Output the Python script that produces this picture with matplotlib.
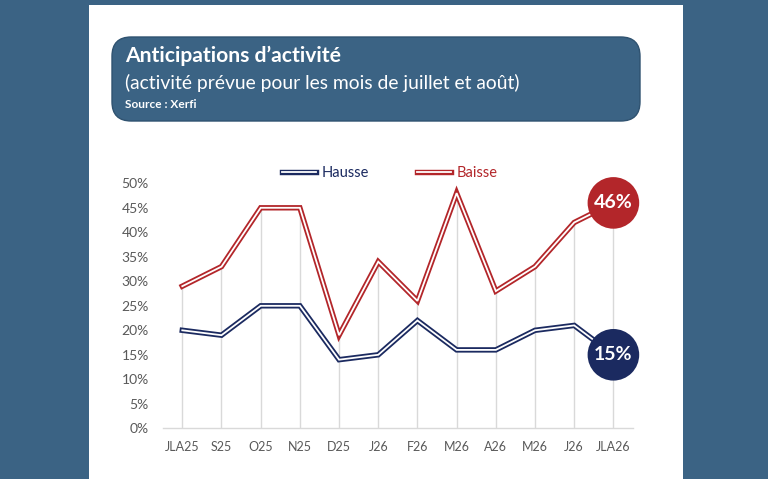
import matplotlib
matplotlib.use("Agg")
import matplotlib.pyplot as plt
import matplotlib.patheffects as pe
from matplotlib.patches import FancyBboxPatch, Rectangle
import numpy as np

plt.rcParams['font.family'] = ['Lato', 'DejaVu Sans']

categories = ["JLA25", "S25", "O25", "N25", "D25", "J26", "F26", "M26", "A26", "M26", "J26", "JLA26"]
hausse = [20, 19, 25, 25, 14, 15, 22, 16, 16, 20, 21, 15]
baisse = [29, 33, 45, 45, 19, 34, 26, 48, 28, 33, 42, 46]
yticks = [0, 5, 10, 15, 20, 25, 30, 35, 40, 45, 50]
ytick_labels = [f"{v}%" for v in yticks]

title = "Anticipations d’activité"
subtitle = "(activité prévue pour les mois de juillet et août)"
source = "Source : Xerfi"

BG = "#3b6384"
NAVY = "#1b2a60"
RED = "#b3262a"

fig = plt.figure(figsize=(7.68, 4.79), dpi=100)
fig.patch.set_facecolor(BG)

W, H = 768, 479
def fx(px):
    return px / W
def fy(py):
    return 1 - py / H

# white panel
fig.patches.append(Rectangle((fx(89), 0), fx(683) - fx(89), fy(5), transform=fig.transFigure,
                             facecolor="white", edgecolor="none", zorder=-10))
# title box
fig.patches.append(FancyBboxPatch((fx(112), fy(121)), fx(640) - fx(112), fy(37) - fy(121),
                                  boxstyle="round,pad=0,rounding_size=0.025",
                                  transform=fig.transFigure, facecolor=BG,
                                  edgecolor="#2f5270", linewidth=1, zorder=-5,
                                  mutation_aspect=W / H))
fig.text(fx(125), fy(56), title, color="white", fontsize=15.2, fontweight="bold", va="center", ha="left")
fig.text(fx(125), fy(83), subtitle, color="white", fontsize=13.9, va="center", ha="left")
fig.text(fx(125), fy(104), source, color="white", fontsize=8.6, fontweight="bold", va="center", ha="left")

ax = fig.add_axes([fx(162.7), fy(428.3), fx(633) - fx(162.7), fy(183.3) - fy(428.3)])
ax.set_facecolor("none")
x = np.arange(len(categories))

ax.vlines(x, 0, np.maximum(hausse, baisse), color="#d9d9d9", lw=1, zorder=1)

def dbl(color):
    return [pe.Stroke(linewidth=3.9, foreground=color), pe.Normal()]

lh, = ax.plot(x, hausse, color="white", lw=1.3, path_effects=dbl(NAVY), label="Hausse",
              zorder=3, solid_joinstyle="miter")
lb, = ax.plot(x, baisse, color="white", lw=1.3, path_effects=dbl(RED), label="Baisse",
              zorder=3, solid_joinstyle="miter")

# end circles
ax.scatter([x[-1]], [baisse[-1]], s=1380, color=RED, zorder=5, clip_on=False, edgecolors="none")
ax.scatter([x[-1]], [hausse[-1]], s=1380, color=NAVY, zorder=5, clip_on=False, edgecolors="none")
ax.text(x[-1], baisse[-1], f"{baisse[-1]}%", color="white", fontsize=14, fontweight="bold",
        ha="center", va="center", zorder=6)
ax.text(x[-1], hausse[-1], f"{hausse[-1]}%", color="white", fontsize=14, fontweight="bold",
        ha="center", va="center", zorder=6)

ax.set_xlim(-0.5, len(categories) - 0.5)
ax.set_ylim(0, 50)
ax.set_xticks(x)
ax.set_xticklabels(categories)
ax.set_yticks(yticks)
ax.set_yticklabels(ytick_labels)
ax.tick_params(axis="both", length=0, colors="#595959")
ax.tick_params(axis="y", pad=10, labelsize=10)
ax.tick_params(axis="x", pad=9, labelsize=9)
for s in ["top", "right", "left"]:
    ax.spines[s].set_visible(False)
ax.spines["bottom"].set_color("#d9d9d9")
ax.spines["bottom"].set_linewidth(1)

leg = fig.legend(handles=[lh, lb], loc="center", bbox_to_anchor=(fx(390), fy(173)), ncol=2,
                 frameon=False, fontsize=10.5, handlelength=2.3, columnspacing=3.3, handletextpad=0.4)
for t, c in zip(leg.get_texts(), [NAVY, RED]):
    t.set_color(c)

fig.savefig("out.png", dpi=100, facecolor=fig.get_facecolor())
